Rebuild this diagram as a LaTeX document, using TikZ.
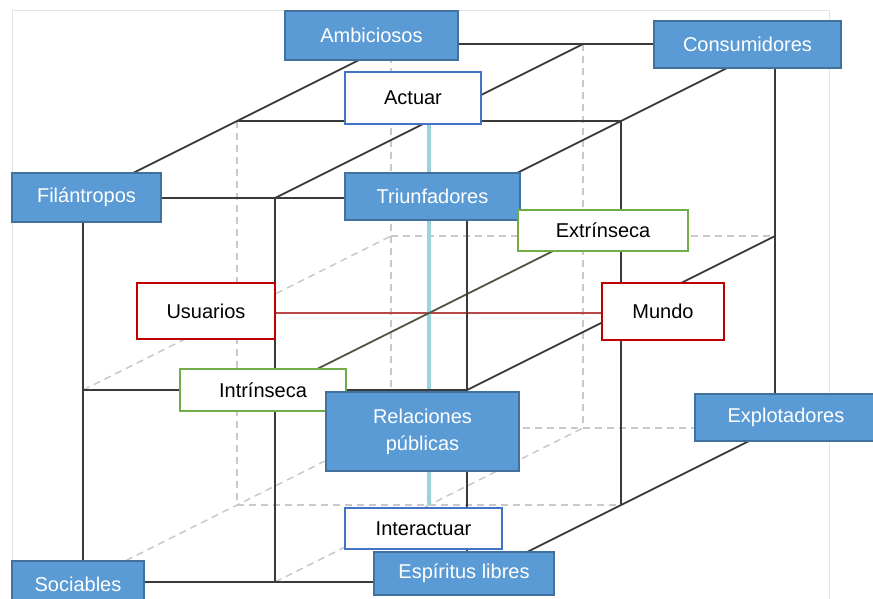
\documentclass[tikz,border=0pt]{standalone}
\usepackage{fontspec}
\setmainfont{Liberation Sans}
\definecolor{boxfill}{HTML}{5B9BD5}
\definecolor{boxedge}{HTML}{41719C}
\definecolor{axisblue}{HTML}{4472C4}
\definecolor{axisgreen}{HTML}{70AD47}
\definecolor{axisred}{HTML}{C00000}
\definecolor{edgeline}{HTML}{3A3A3A}
\definecolor{hiddenline}{HTML}{C8C8C8}
\definecolor{framegray}{HTML}{E4E4E4}
\definecolor{verticalaxis}{HTML}{9CD2DC}
\definecolor{depthaxis}{HTML}{4E5840}
\definecolor{widthaxis}{HTML}{B84848}
\begin{document}
\begin{tikzpicture}[x=1pt,y=-1pt,
  every node/.style={font=\fontsize{20}{27}\selectfont, inner sep=0pt, align=center},
  typebox/.style={draw=boxedge, fill=boxfill, line width=1.6pt, text=white},
  pairbox/.style={draw=#1, fill=white, line width=1.6pt, text=black},
  solidedge/.style={draw=edgeline, line width=1.8pt},
  hiddenedge/.style={draw=hiddenline, line width=1.5pt, dash pattern=on 7pt off 5pt},
  redaxis/.style={draw=widthaxis, line width=1.7pt},
  blueaxis/.style={draw=verticalaxis, line width=3.2pt},
  greenaxis/.style={draw=depthaxis, line width=1.8pt}]
\useasboundingbox (0,0) rectangle (873,598);
\fill[white] (0,0) rectangle (873,598);
\draw[framegray, line width=1pt] (12,10) -- (12,600) (12,10) -- (829,10) -- (829,600);

% lattice points of the 2x2x2 cube: i = width, j = height, k = depth
\foreach \i in {0,1,2}
  \foreach \j in {0,1,2}
    \foreach \k in {0,1,2}
      \coordinate (p\i\j\k) at ({83+192*\i+154*\k},{198+192*\j-77*\k});

% hidden lines
\foreach \j in {1,2} \draw[hiddenedge] (p0\j2) -- (p2\j2);
\foreach \i in {0,1} \draw[hiddenedge] (p\i02) -- (p\i22);
\draw[hiddenedge] (p001) -- (p021);
\foreach \j in {1,2} \draw[hiddenedge] (p0\j0) -- (p0\j2);
\draw[hiddenedge] (p021) -- (p221);
\draw[hiddenedge] (p120) -- (p122);

% the three central axes
\draw[blueaxis] (p101) -- (p121);
\draw[redaxis] (p011) -- (p211);
\draw[greenaxis] (p110) -- (p112);

% visible edges: front, top and right faces
\foreach \j in {0,1,2} \draw[solidedge] (p0\j0) -- (p2\j0);
\foreach \i in {0,1,2} \draw[solidedge] (p\i00) -- (p\i20);
\foreach \k in {1,2} \draw[solidedge] (p00\k) -- (p20\k);
\foreach \i in {0,1,2} \draw[solidedge] (p\i00) -- (p\i02);
\foreach \k in {1,2} \draw[solidedge] (p20\k) -- (p22\k);
\foreach \j in {1,2} \draw[solidedge] (p2\j0) -- (p2\j2);

% labels
\node[typebox, minimum width=173pt, minimum height=49pt] (amb) at (371.5,35.5) {Ambiciosos};
\node[typebox, minimum width=187pt, minimum height=47pt] (con) at (747.5,44.5) {Consumidores};
\node[pairbox=axisblue, minimum width=136pt, minimum height=52pt] (act) at (413,98) {Actuar};
\node[typebox, minimum width=149pt, minimum height=49pt] (fil) at (86.5,197.5) {Filántropos};
\node[typebox, minimum width=175pt, minimum height=47pt] (tri) at (432.5,196.5) {Triunfadores};
\node[pairbox=axisgreen, minimum width=170pt, minimum height=41pt] (ext) at (603,230.5) {Extrínseca};
\node[pairbox=axisred, minimum width=138pt, minimum height=56pt] (usu) at (206,311) {Usuarios};
\node[pairbox=axisred, minimum width=122pt, minimum height=57pt] (mun) at (663,311.5) {Mundo};
\node[pairbox=axisgreen, minimum width=166pt, minimum height=42pt] (int) at (263,390) {Intrínseca};
\node[typebox, minimum width=193pt, minimum height=79pt] (rel) at (422.5,431.5) {Relaciones\\públicas};
\node[typebox, minimum width=182pt, minimum height=47pt] (exp) at (786,417.5) {Explotadores};
\node[pairbox=axisblue, minimum width=157pt, minimum height=41pt] (ira) at (423.5,528.5) {Interactuar};
\node[typebox, minimum width=132pt, minimum height=46pt] (soc) at (78,584) {Sociables};
\node[typebox, minimum width=180pt, minimum height=43pt] (esp) at (464,573.5) {Espíritus libres};
\end{tikzpicture}
\end{document}
